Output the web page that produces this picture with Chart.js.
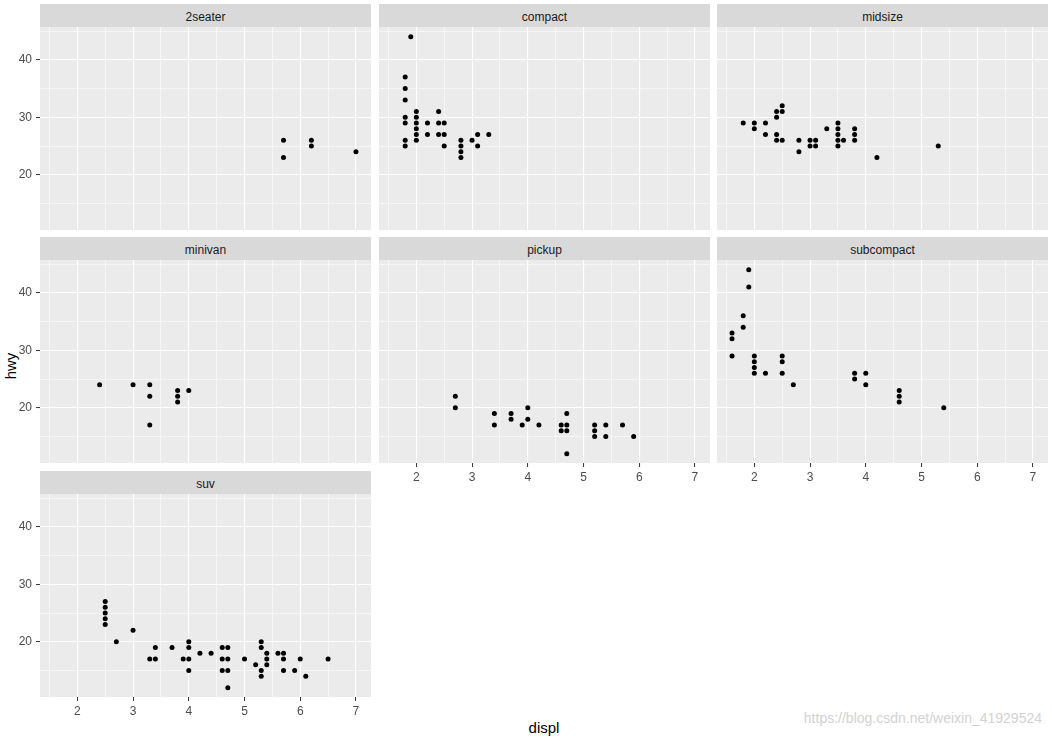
<!DOCTYPE html>
<html>
<head>
<meta charset="utf-8">
<script src="https://cdn.jsdelivr.net/npm/chart.js@4/dist/chart.umd.min.js"></script>
<style>
  body { margin: 0; width: 1052px; height: 738px; position: relative; overflow: hidden; background: #fff;
         font-family: "Liberation Sans", Arial, sans-serif; }
  .strip { position: absolute; height: 23px; line-height: 27px; background: #d9d9d9; color: #1a1a1a;
           font-size: 12px; text-align: center; overflow: hidden; }
  .panel { position: absolute; }
  .axis-title { position: absolute; color: #000; font-size: 15px; }
  #hwyTitle { left: 10px; top: 366px; transform: translate(-50%, -50%) rotate(-90deg); }
  #displTitle { left: 544px; top: 727px; transform: translate(-50%, -50%); }
  #watermark { position: absolute; right: 10px; top: 710px; font-size: 14px; color: #d2d2d2; }
</style>
</head>
<body>
<div id="hwyTitle" class="axis-title">hwy</div>
<div id="displTitle" class="axis-title">displ</div>
<div id="watermark">https://blog.csdn.net/weixin_41929524</div>

<script>
const classNames = ["2seater", "compact", "midsize", "minivan", "pickup", "subcompact", "suv"];

const twoSeaterDispl = [5.7, 5.7, 6.2, 6.2, 7.0];
const twoSeaterHwy = [26, 23, 26, 25, 24];

const compactDispl = [1.9, 1.8, 1.8, 1.8, 2.0, 2.4, 1.8, 2.0, 1.8, 2.0, 2.2, 2.4, 2.5, 2.0,
  2.0, 2.2, 2.4, 2.5, 3.1, 3.3, 1.8, 2.0, 2.8, 3.0, 1.8, 2.5, 2.8, 3.1, 2.8, 2.8];
const compactHwy = [44, 37, 35, 33, 31, 31, 30, 30, 29, 29, 29, 29, 29, 28,
  27, 27, 27, 27, 27, 27, 26, 26, 26, 26, 25, 25, 25, 25, 24, 23];

const midsizeDispl = [1.8, 2.0, 2.2, 2.0, 2.2, 2.4, 2.4, 2.5, 2.5, 2.4, 2.4, 2.5, 2.8, 2.8,
  3.0, 3.1, 3.0, 3.1, 3.3, 3.5, 3.5, 3.5, 3.5, 3.5, 3.6, 3.8, 3.8, 3.8, 4.2, 5.3];
const midsizeHwy = [29, 29, 29, 28, 27, 30, 31, 31, 32, 27, 26, 26, 26, 24,
  26, 26, 25, 25, 28, 29, 28, 27, 26, 25, 26, 28, 27, 26, 23, 25];

const minivanDispl = [2.4, 3.0, 3.3, 3.3, 3.3, 3.8, 3.8, 3.8, 4.0];
const minivanHwy = [24, 24, 24, 22, 17, 23, 22, 21, 23];

const pickupDispl = [2.7, 2.7, 3.4, 3.4, 3.7, 3.7, 3.9, 4.0, 4.0, 4.2, 4.6, 4.6, 4.7, 4.7,
  4.7, 4.7, 5.2, 5.2, 5.2, 5.4, 5.4, 5.7, 5.9];
const pickupHwy = [22, 20, 19, 17, 19, 18, 17, 20, 18, 17, 17, 16, 19, 17,
  16, 12, 17, 16, 15, 17, 15, 17, 15];

const subcompactDispl = [1.9, 1.9, 1.8, 1.8, 1.6, 1.6, 1.6, 2.0, 2.0, 2.0, 2.0, 2.2, 2.5, 2.5,
  2.5, 2.7, 3.8, 3.8, 4.0, 4.0, 4.6, 4.6, 4.6, 5.4];
const subcompactHwy = [44, 41, 36, 34, 33, 32, 29, 29, 28, 27, 26, 26, 29, 28,
  26, 24, 26, 25, 26, 24, 23, 22, 21, 20];

const suvDispl = [2.5, 2.5, 2.5, 2.5, 2.5, 2.7, 3.0, 3.3, 3.4, 3.4, 3.7, 3.9, 4.0, 4.0, 4.0,
  4.0, 4.2, 4.4, 4.6, 4.6, 4.6, 4.7, 4.7, 4.7, 4.7, 5.0, 5.2, 5.3, 5.3, 5.3, 5.3, 5.4, 5.4,
  5.4, 5.6, 5.7, 5.7, 5.7, 5.9, 6.0, 6.1, 6.5];
const suvHwy = [27, 26, 25, 24, 23, 20, 22, 17, 17, 19, 19, 17, 20, 19, 17,
  15, 18, 18, 19, 17, 15, 19, 17, 15, 12, 17, 16, 20, 19, 15, 14, 18, 17,
  16, 18, 18, 17, 15, 15, 17, 14, 17];

const xTickLabels = [2, 3, 4, 5, 6, 7];
const yTickLabels = [20, 30, 40];

const xMin = 1.33, xMax = 7.27;
const yMin = 10.4, yMax = 45.7;

const colLeft = [40, 379, 717];
const rowStripTop = [4, 237, 471];
const panelWidth = 331;
const stripHeight = 23;
const panelHeight = 203;

Chart.defaults.font.family = "'Liberation Sans', Arial, sans-serif";

const panelBackground = {
  id: "panelBackground",
  beforeDraw(chart) {
    const { ctx, chartArea } = chart;
    ctx.save();
    ctx.fillStyle = "#ebebeb";
    ctx.fillRect(chartArea.left, chartArea.top, chartArea.right - chartArea.left, chartArea.bottom - chartArea.top);
    ctx.restore();
  }
};

const isWhole = value => Math.abs(value - Math.round(value)) < 1e-6;

function makePanel(name, displ, hwy, row, col, showX) {
  const showY = col === 0;
  const left = colLeft[col] - (showY ? 40 : 0);
  const top = rowStripTop[row] + stripHeight;
  const width = panelWidth + (showY ? 40 : 0);
  const height = panelHeight + (showX ? 24 : 0);

  const strip = document.createElement("div");
  strip.className = "strip";
  strip.style.left = colLeft[col] + "px";
  strip.style.top = rowStripTop[row] + "px";
  strip.style.width = panelWidth + "px";
  strip.textContent = name;
  document.body.appendChild(strip);

  const canvas = document.createElement("canvas");
  canvas.className = "panel";
  canvas.width = width;
  canvas.height = height;
  canvas.style.left = left + "px";
  canvas.style.top = top + "px";
  canvas.style.width = width + "px";
  canvas.style.height = height + "px";
  document.body.appendChild(canvas);

  new Chart(canvas, {
    type: "scatter",
    data: {
      datasets: [{
        data: displ.map((d, i) => ({ x: d, y: hwy[i] })),
        backgroundColor: "#000",
        borderWidth: 0,
        pointRadius: 2.5,
        pointHoverRadius: 2.5
      }]
    },
    options: {
      responsive: false,
      animation: false,
      events: [],
      layout: { padding: 0, autoPadding: false },
      plugins: { legend: { display: false }, tooltip: { enabled: false } },
      scales: {
        x: {
          type: "linear",
          min: xMin,
          max: xMax,
          border: { display: false },
          grid: {
            color: "#ffffff",
            lineWidth: ctx => isWhole(ctx.tick.value) ? 1.1 : 0.55,
            drawTicks: showX,
            tickLength: 4,
            tickWidth: 1,
            tickColor: ctx => isWhole(ctx.tick.value) ? "#333333" : "rgba(0,0,0,0)"
          },
          ticks: {
            display: showX,
            stepSize: 0.5,
            includeBounds: false,
            autoSkip: false,
            maxRotation: 0,
            padding: 3,
            color: "#4d4d4d",
            font: { size: 12 },
            callback: value => isWhole(value) && xTickLabels.includes(Math.round(value)) ? String(Math.round(value)) : ""
          },
          afterFit: scale => {
            scale.height = showX ? 24 : 0;
            scale.paddingLeft = 0;
            scale.paddingRight = 0;
          }
        },
        y: {
          type: "linear",
          min: yMin,
          max: yMax,
          border: { display: false },
          grid: {
            color: "#ffffff",
            lineWidth: ctx => ctx.tick.value % 10 === 0 ? 1.1 : 0.55,
            drawTicks: showY,
            tickLength: 4,
            tickWidth: 1,
            tickColor: ctx => ctx.tick.value % 10 === 0 ? "#333333" : "rgba(0,0,0,0)"
          },
          ticks: {
            display: showY,
            stepSize: 5,
            includeBounds: false,
            autoSkip: false,
            padding: 4,
            color: "#4d4d4d",
            font: { size: 12 },
            callback: value => yTickLabels.includes(value) ? String(value) : ""
          },
          afterFit: scale => {
            scale.width = showY ? 40 : 0;
            scale.paddingTop = 0;
            scale.paddingBottom = 0;
          }
        }
      }
    },
    plugins: [panelBackground]
  });
}

makePanel(classNames[0], twoSeaterDispl, twoSeaterHwy, 0, 0, false);
makePanel(classNames[1], compactDispl, compactHwy, 0, 1, false);
makePanel(classNames[2], midsizeDispl, midsizeHwy, 0, 2, false);
makePanel(classNames[3], minivanDispl, minivanHwy, 1, 0, false);
makePanel(classNames[4], pickupDispl, pickupHwy, 1, 1, true);
makePanel(classNames[5], subcompactDispl, subcompactHwy, 1, 2, true);
makePanel(classNames[6], suvDispl, suvHwy, 2, 0, true);
</script>
</body>
</html>
